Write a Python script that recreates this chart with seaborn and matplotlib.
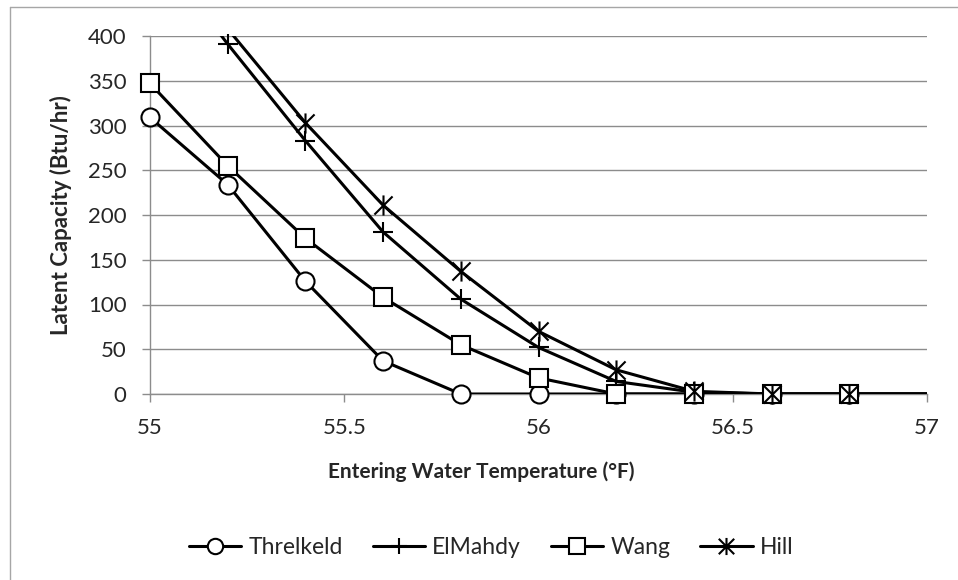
import numpy as np
import pandas as pd
import matplotlib
matplotlib.use("Agg")
import matplotlib.pyplot as plt
import seaborn as sns
from matplotlib.path import Path
from matplotlib.lines import Line2D

# ---- data ----
temps = [55.0, 55.2, 55.4, 55.6, 55.8, 56.0, 56.2, 56.4, 56.6, 56.8, 57.0]
threlkeld = [309, 234, 126, 37, 0, 0, 0, 0, 0, 0, 0]
elmahdy = [505, 391, 283, 181, 106, 52, 14, 2, 0, 0, 0]
wang = [347, 255, 174, 108, 55, 18, 0, 0, 0, 0, 0]
hill = [520, 408, 303, 211, 137, 70, 27, 3, 0, 0, 0]
series_names = ["Threlkeld", "ElMahdy", "Wang", "Hill"]
x_ticks = [55, 55.5, 56, 56.5, 57]
y_ticks = [0, 50, 100, 150, 200, 250, 300, 350, 400]

df = pd.DataFrame({"temp": temps, "Threlkeld": threlkeld, "ElMahdy": elmahdy,
                   "Wang": wang, "Hill": hill})

sns.set_theme(style="white")
plt.rcParams["font.family"] = ["Lato", "DejaVu Sans"]

GRAY = "#8c8c8c"
TICK_FS = 16
TITLE_FS = 15
LW = 2.2
MEW = 1.5

# Excel-style star marker: X plus vertical line
star_path = Path([(0, -1), (0, 1), (-0.9, -0.9), (0.9, 0.9), (-0.9, 0.9), (0.9, -0.9)],
                 [Path.MOVETO, Path.LINETO, Path.MOVETO, Path.LINETO, Path.MOVETO, Path.LINETO])

styles = {
    "Threlkeld": dict(marker="o", ms=13, mfc="white"),
    "ElMahdy": dict(marker="+", ms=14, mfc="none"),
    "Wang": dict(marker="s", ms=13.5, mfc="white"),
    "Hill": dict(marker=star_path, ms=14.5, mfc="none"),
}

fig = plt.figure(figsize=(9.58, 5.80), dpi=100)
ax = fig.add_axes([150/958, 1-394/580, (927-150)/958, (394-36)/580])

for name in series_names:
    sns.lineplot(data=df, x="temp", y=name, ax=ax, color="black", lw=LW,
                 legend=False, zorder=3)
for name in series_names:
    sub = df[(df[name] <= 400) & (df["temp"] <= 56.8)]
    st = styles[name]
    ax.plot(sub["temp"], sub[name], linestyle="none", marker=st["marker"],
            markersize=st["ms"], markerfacecolor=st["mfc"], markeredgecolor="black",
            markeredgewidth=MEW, clip_on=False, zorder=4)

ax.set_xlim(55, 57)
ax.set_ylim(0, 400)
ax.set_xticks(x_ticks)
ax.set_xticklabels([f"{t:g}" for t in x_ticks])
ax.set_yticks(y_ticks)
ax.yaxis.grid(True, color=GRAY, lw=1.0)
ax.set_axisbelow(True)
for s in ["top", "right"]:
    ax.spines[s].set_visible(False)
for s in ["left", "bottom"]:
    ax.spines[s].set_color(GRAY)
    ax.spines[s].set_linewidth(1.0)
ax.tick_params(axis="x", which="major", direction="out", length=6, width=1,
               color=GRAY, labelsize=TICK_FS, pad=11, bottom=True)
ax.tick_params(axis="y", which="major", direction="out", length=6, width=1,
               color=GRAY, labelsize=TICK_FS, pad=11, left=True)
ax.set_xlabel("Entering Water Temperature (°F)", fontsize=TITLE_FS, fontweight="bold", va="center")
ax.xaxis.set_label_coords((481-150)/777, (394-472)/358)
ax.set_ylabel("Latent Capacity (Btu/hr)", fontsize=16, fontweight="bold", va="center")
ax.yaxis.set_label_coords((61-150)/777, 0.5)

handles = []
for name in series_names:
    st = styles[name]
    handles.append(Line2D([0], [0], color="black", lw=LW, marker=st["marker"],
                          markersize=st["ms"] * 0.85, markerfacecolor=st["mfc"],
                          markeredgecolor="black", markeredgewidth=MEW))
fig.legend(handles, series_names, loc="center", bbox_to_anchor=(491/958, 1-548/580),
           ncol=4, frameon=False, fontsize=16.5, handlelength=2.3, columnspacing=1.3,
           handletextpad=0.3)

# chart-area border (top and left edges visible in the crop)
fig.add_artist(Line2D([9.5/958, 1.0], [1-6.5/580, 1-6.5/580], transform=fig.transFigure,
                      color="#a6a6a6", lw=1.0))
fig.add_artist(Line2D([9.5/958, 9.5/958], [0.0, 1-6.5/580], transform=fig.transFigure,
                      color="#a6a6a6", lw=1.0))

fig.savefig("out.png", dpi=100)
